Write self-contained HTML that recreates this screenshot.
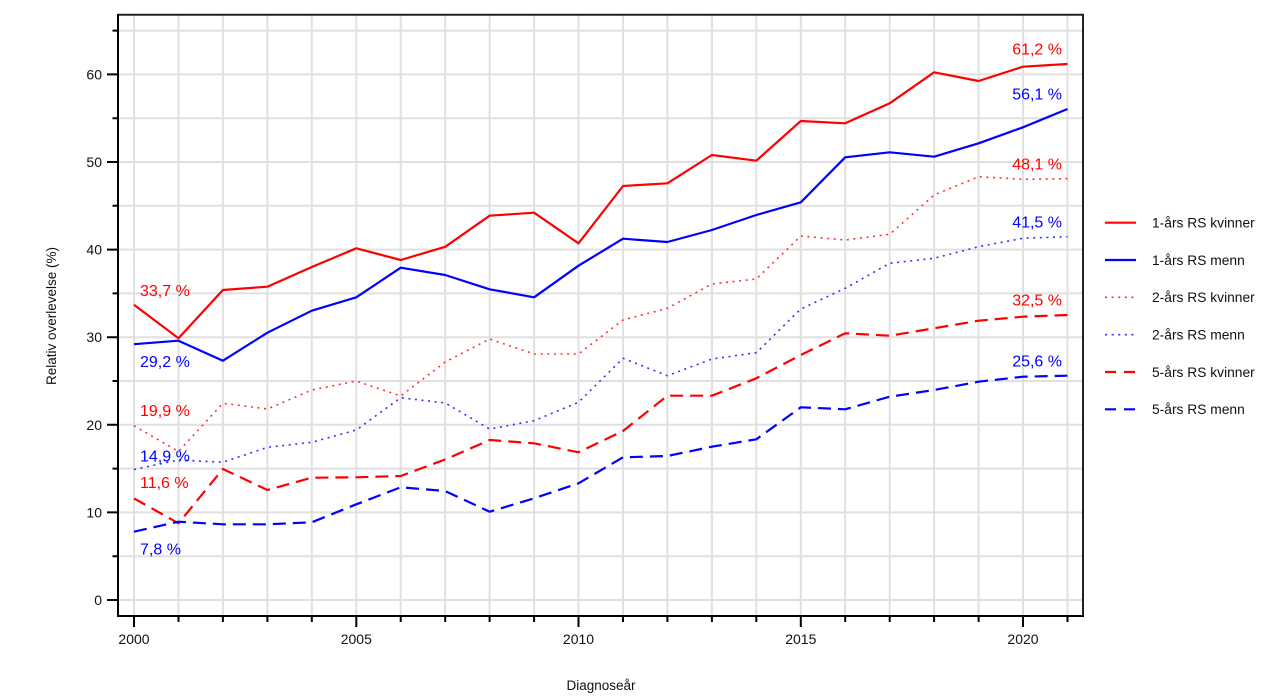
<!DOCTYPE html>
<html>
<head>
<meta charset="utf-8">
<style>
html,body{margin:0;padding:0;background:#fff;}
svg{display:block;}
text{font-family:"Liberation Sans",Arial,sans-serif;}
</style>
</head>
<body>
<svg width="1267" height="700" viewBox="0 0 1267 700" xmlns="http://www.w3.org/2000/svg">
<rect x="0" y="0" width="1267" height="700" fill="#fff"/>
<!-- gridlines -->
<g stroke="#e0e0e0" stroke-width="2" fill="none">
<path d="M118 600H1083M118 556.2H1083M118 512.4H1083M118 468.6H1083M118 424.8H1083M118 381H1083M118 337.2H1083M118 293.4H1083M118 249.6H1083M118 205.8H1083M118 162H1083M118 118.2H1083M118 74.4H1083M118 30.6H1083"/>
<path d="M134 15V616M178.5 15V616M222.9 15V616M267.4 15V616M311.8 15V616M356.3 15V616M400.7 15V616M445.2 15V616M489.6 15V616M534.1 15V616M578.5 15V616M623 15V616M667.4 15V616M711.9 15V616M756.3 15V616M800.8 15V616M845.2 15V616M889.7 15V616M934.1 15V616M978.6 15V616M1023 15V616M1067.5 15V616"/>
</g>
<!-- frame -->
<path d="M118 14.7H1083V616" stroke="#222" stroke-width="2" fill="none"/>
<path d="M118 14V616H1084" stroke="#000" stroke-width="2" fill="none"/>
<!-- ticks -->
<g stroke="#000" stroke-width="2">
<path d="M107 600H118M107 512.4H118M107 424.8H118M107 337.2H118M107 249.6H118M107 162H118M107 74.4H118"/>
<path d="M112.5 556.2H118M112.5 468.6H118M112.5 381H118M112.5 293.4H118M112.5 205.8H118M112.5 118.2H118M112.5 30.6H118"/>
<path d="M134 616V627M356.3 616V627M578.5 616V627M800.8 616V627M1023 616V627"/>
<path d="M178.5 616V622M222.9 616V622M267.4 616V622M311.8 616V622M400.7 616V622M445.2 616V622M489.6 616V622M534.1 616V622M623 616V622M667.4 616V622M711.9 616V622M756.3 616V622M845.2 616V622M889.7 616V622M934.1 616V622M978.6 616V622M1067.5 616V622"/>
</g>
<g font-size="14" fill="#111" text-anchor="end">
<text x="102" y="605">0</text>
<text x="102" y="517.4">10</text>
<text x="102" y="429.8">20</text>
<text x="102" y="342.2">30</text>
<text x="102" y="254.6">40</text>
<text x="102" y="167">50</text>
<text x="102" y="79.4">60</text>
</g>
<g font-size="14" fill="#111" text-anchor="middle">
<text x="134" y="644">2000</text>
<text x="356.3" y="644">2005</text>
<text x="578.5" y="644">2010</text>
<text x="800.8" y="644">2015</text>
<text x="1023" y="644">2020</text>
</g>
<text x="601" y="690" font-size="13.5" fill="#111" text-anchor="middle">Diagnoseår</text>
<text transform="translate(56 316) rotate(-90)" font-size="13.5" fill="#111" text-anchor="middle">Relativ overlevelse (%)</text>

<!-- series -->
<g fill="none" stroke-linejoin="round">
<polyline stroke="#ff0000" stroke-width="2.2" points="134,304.8 178.5,338.3 222.9,290 267.4,286.7 311.8,267 356.3,248.3 400.7,260 445.2,246.8 489.6,215.7 534.1,212.7 578.5,243.3 623,186 667.4,183.3 711.9,155 756.3,160.7 800.8,121 845.2,123.3 889.7,103.3 934.1,72.3 978.6,81 1023,66.7 1067.5,64"/>
<polyline stroke="#0000ff" stroke-width="2.2" points="134,344.2 178.5,340.7 222.9,360.7 267.4,332.7 311.8,310.7 356.3,297.3 400.7,267.7 445.2,275 489.6,289.3 534.1,297.3 578.5,265.7 623,238.7 667.4,242 711.9,230 756.3,215 800.8,202.3 845.2,157.3 889.7,152.3 934.1,156.7 978.6,143.3 1023,127.3 1067.5,109"/>
<polyline stroke="#ff3030" stroke-width="1.6" stroke-dasharray="2 4.6" points="134,425.7 178.5,451.5 222.9,403.3 267.4,409 311.8,390 356.3,381 400.7,396 445.2,362 489.6,339 534.1,354 578.5,354 623,320 667.4,308.3 711.9,284 756.3,279 800.8,236 845.2,240 889.7,234.3 934.1,195 978.6,176.7 1023,179.3 1067.5,178.7"/>
<polyline stroke="#3030ff" stroke-width="1.6" stroke-dasharray="2 4.6" points="134,469.5 178.5,460 222.9,462.3 267.4,447.3 311.8,442.3 356.3,430 400.7,397.7 445.2,403 489.6,429 534.1,420.7 578.5,402.3 623,358.3 667.4,375.7 711.9,359 756.3,352.7 800.8,309 845.2,288.3 889.7,263.3 934.1,258.3 978.6,246.7 1023,238.3 1067.5,236.7"/>
<polyline stroke="#ff0000" stroke-width="2.2" stroke-dasharray="13 7" points="134,498.4 178.5,523.3 222.9,469 267.4,490 311.8,477.7 356.3,477.3 400.7,476 445.2,459.5 489.6,440 534.1,443.3 578.5,452.3 623,431 667.4,395.7 711.9,395.7 756.3,378.3 800.8,355 845.2,333.3 889.7,335.7 934.1,328.3 978.6,320.7 1023,316.7 1067.5,315"/>
<polyline stroke="#0000ff" stroke-width="2.2" stroke-dasharray="13 7" points="134,531.7 178.5,521.7 222.9,524.3 267.4,524.3 311.8,522.3 356.3,504.3 400.7,487.3 445.2,491 489.6,511.7 534.1,498.3 578.5,483.3 623,457.3 667.4,456 711.9,446.7 756.3,439.3 800.8,407.3 845.2,409.3 889.7,396.7 934.1,390 978.6,381.7 1023,376.7 1067.5,375.7"/>
</g>

<!-- data labels -->
<g font-size="16">
<text x="140" y="296" fill="#ff0000">33,7 %</text>
<text x="140" y="367" fill="#0000ff">29,2 %</text>
<text x="140" y="416" fill="#ff0000">19,9 %</text>
<text x="140" y="461.5" fill="#0000ff">14,9 %</text>
<text x="140" y="488" fill="#ff0000">11,6 %</text>
<text x="140" y="554.5" fill="#0000ff">7,8 %</text>
</g>
<g font-size="16" text-anchor="end">
<text x="1062" y="54.7" fill="#ff0000">61,2 %</text>
<text x="1062" y="99.4" fill="#0000ff">56,1 %</text>
<text x="1062" y="169.4" fill="#ff0000">48,1 %</text>
<text x="1062" y="227.7" fill="#0000ff">41,5 %</text>
<text x="1062" y="305.4" fill="#ff0000">32,5 %</text>
<text x="1062" y="366.4" fill="#0000ff">25,6 %</text>
</g>

<!-- legend -->
<g fill="none">
<path d="M1105 222.7H1136" stroke="#ff0000" stroke-width="2.2"/>
<path d="M1105 260H1136" stroke="#0000ff" stroke-width="2.2"/>
<path d="M1105 297.3H1136" stroke="#ff3030" stroke-width="1.6" stroke-dasharray="2 4.6"/>
<path d="M1105 334.7H1136" stroke="#3030ff" stroke-width="1.6" stroke-dasharray="2 4.6"/>
<path d="M1105 372H1136" stroke="#ff0000" stroke-width="2.2" stroke-dasharray="11 8"/>
<path d="M1105 409.3H1136" stroke="#0000ff" stroke-width="2.2" stroke-dasharray="11 8"/>
</g>
<g font-size="13.8" fill="#111">
<text x="1152" y="227.5">1-års RS kvinner</text>
<text x="1152" y="264.8">1-års RS menn</text>
<text x="1152" y="302.1">2-års RS kvinner</text>
<text x="1152" y="339.5">2-års RS menn</text>
<text x="1152" y="376.8">5-års RS kvinner</text>
<text x="1152" y="414.1">5-års RS menn</text>
</g>
</svg>
</body>
</html>
